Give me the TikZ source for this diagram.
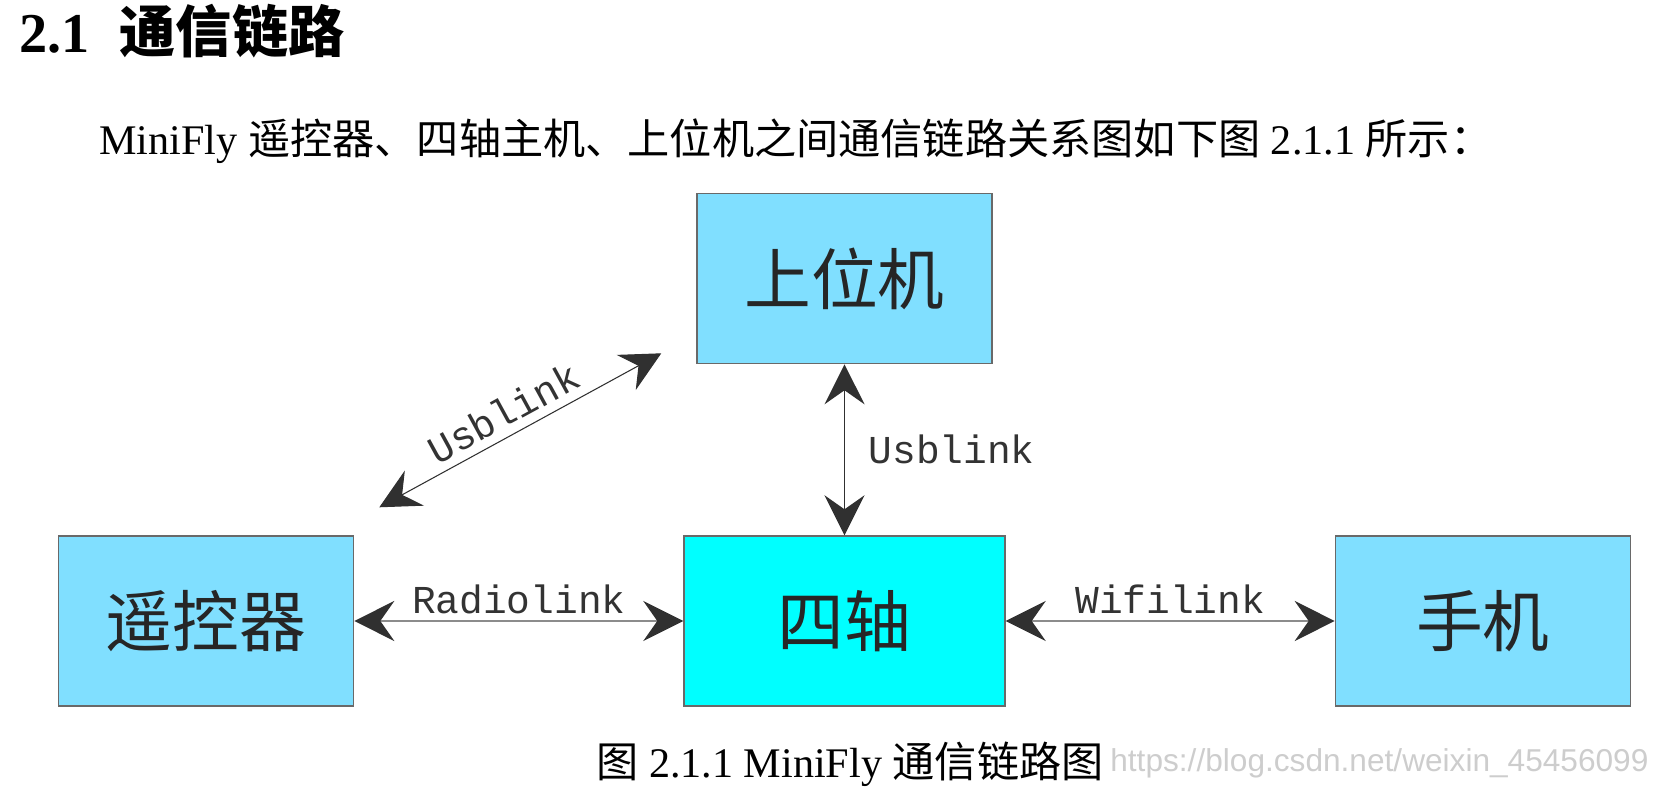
\documentclass[tikz,border=0pt]{standalone}
\usepackage{fontspec}
\setmainfont{Liberation Serif}
\setsansfont{Liberation Sans}
\setmonofont{Liberation Mono}
\newfontfamily\cjk{Noto Sans CJK SC}
\usetikzlibrary{arrows.meta,calc,positioning}
\definecolor{hostColor}{RGB}{128,223,255}
\definecolor{droneColor}{RGB}{0,255,255}
\definecolor{edgeColor}{RGB}{105,105,105}
\definecolor{tipColor}{RGB}{48,48,48}
\definecolor{markColor}{RGB}{205,205,205}
\tikzset{device/.style={fill=hostColor, draw=edgeColor, line width=0.8pt, minimum width=5.9cm, minimum height=3.4cm, font=\cjk\fontsize{38}{40}\selectfont, text=black!85}}
\tikzset{drone/.style={device, fill=droneColor, minimum width=6.42cm}}
\tikzset{link/.style={draw=tipColor, line width=0.8pt, {Stealth[length=0.8cm, width=0.8cm, inset=0.28cm, color=tipColor]}-{Stealth[length=0.8cm, width=0.8cm, inset=0.28cm, color=tipColor]}}}
\tikzset{radio/.style={link, draw=black!45, line width=1.4pt}}
\tikzset{linklabel/.style={font=\ttfamily\fontsize{22.5}{24}\selectfont, text=black!80}}

\begin{document}
\begin{tikzpicture}[node distance=3.42cm and 6.58cm]
	\useasboundingbox (0,0) rectangle (33.36,-15.8);
	% Text
	\node (title) [anchor=base west, inner sep=0] at (0.38,-1.06) {\fontsize{32}{36}\selectfont\bfseries 2.1\hspace{0.6cm}{\cjk\bfseries 通信链路}};
	\node (intro) [anchor=base west, inner sep=0] at (1.98,-3.1) {\fontsize{24}{28}\selectfont MiniFly {\cjk 遥控器、四轴主机、上位机之间通信链路关系图如下图} 2.1.1 {\cjk 所示：}};

	% Nodes
	\node (drone) [drone] at (16.89,-12.42) {四轴};
	\node (host) [device, above=of drone] {上位机};
	\node (remote) [device, left=of drone] {遥控器};
	\node (phone) [device, right=of drone] {手机};

	\coordinate (usbA) at ($(remote.north east)+(0.5,0.56)$);
	\coordinate (usbB) at ($(host.south west)+(-0.7,0.22)$);

	\node (caption) [anchor=base west, inner sep=0] at (11.92,-15.54) {\fontsize{24}{28}\selectfont{\cjk 图} 2.1.1 MiniFly {\cjk 通信链路图}};
	\node (mark) [anchor=base west, inner sep=0, text=markColor] at (22.2,-15.42) {\sffamily\fontsize{18}{20}\selectfont https://blog.csdn.net/weixin\_45456099};

	% Connectors
	\draw [radio] (remote) -- node[linklabel, above] {Radiolink} (drone);
	\draw [radio] (drone) -- node[linklabel, above] {Wifilink} (phone);
	\draw [link] (drone) -- node[linklabel, right=0.35cm] {Usblink} (host);
	\draw [link, line width=0.6pt] (usbA) -- node[linklabel, sloped, above=0.05cm, pos=0.48] {Usblink} (usbB);

\end{tikzpicture}
\end{document}
